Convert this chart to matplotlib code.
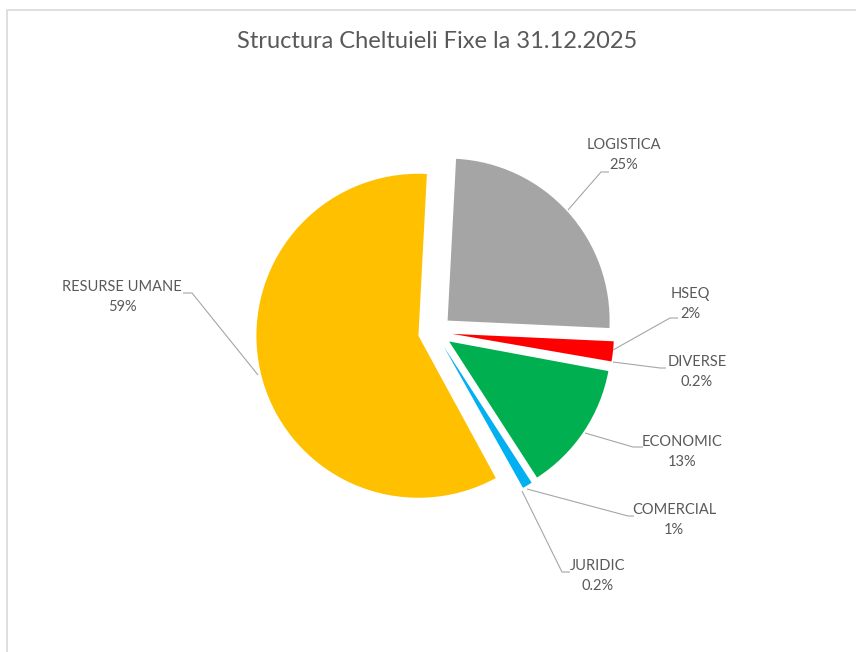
import matplotlib
matplotlib.use("Agg")
import matplotlib.pyplot as plt

categories = ["LOGISTICA", "HSEQ", "DIVERSE", "ECONOMIC", "COMERCIAL", "JURIDIC", "RESURSE UMANE"]
values = [25, 2, 0.2, 13, 1, 0.2, 59]
pct_labels = ["25%", "2%", "0.2%", "13%", "1%", "0.2%", "59%"]
colors = ["#A5A5A5", "#FF0000", "#FFFFFF", "#00B050", "#00B0F0", "#FFFFFF", "#FFC000"]
title = "Structura Cheltuieli Fixe la 31.12.2025"

W, H = 856, 652
FONT = ["Lato", "DejaVu Sans"]
TXT = "#595959"
LEAD = "#A6A6A6"


def P(x, y):
    return (x, H - y)


fig = plt.figure(figsize=(W / 100, H / 100), dpi=100)
ax = fig.add_axes([0, 0, 1, 1])

cx, cy = P(435, 332)
ax.pie(values, colors=colors, startangle=87, counterclock=False,
       radius=162, center=(cx, cy), explode=[17] * len(values),
       wedgeprops=dict(linewidth=0))
ax.set_xlim(0, W)
ax.set_ylim(0, H)
ax.set_aspect("equal")
ax.axis("off")

# label placements (text centre, leader path) in pixel coords
label_pos = {
    "LOGISTICA": ((624, 155), [(568, 210), (601, 172), (609, 172)]),
    "HSEQ": ((690, 304), [(613, 350), (670, 318), (678, 318)]),
    "DIVERSE": ((697, 372), [(613, 362), (660, 368), (666, 368)]),
    "ECONOMIC": ((682, 452), [(585, 433), (633, 447), (643, 447)]),
    "COMERCIAL": ((674, 520), [(527, 489), (628, 516), (634, 516)]),
    "JURIDIC": ((598, 576), [(522, 491), (562, 572), (570, 572)]),
    "RESURSE UMANE": ((122, 297), [(258, 375), (192, 293), (183, 293)]),
}

for cat, pct in zip(categories, pct_labels):
    (tx, ty), path = label_pos[cat]
    xs = [p[0] for p in path]
    ys = [H - p[1] for p in path]
    ax.plot(xs, ys, color=LEAD, lw=0.8, solid_capstyle="butt")
    ax.text(tx, H - ty, f"{cat}\n{pct}", ha="center", va="center",
            fontsize=10.5, color=TXT, family=FONT, linespacing=1.6)

ax.text(437, H - 42, title, ha="center", va="center", fontsize=17,
        color=TXT, family=FONT)

# chart area border
ax.plot([7, 7, W], [0, H - 10, H - 10], color="#D9D9D9", lw=1.2)

fig.savefig("out.png", dpi=100)
